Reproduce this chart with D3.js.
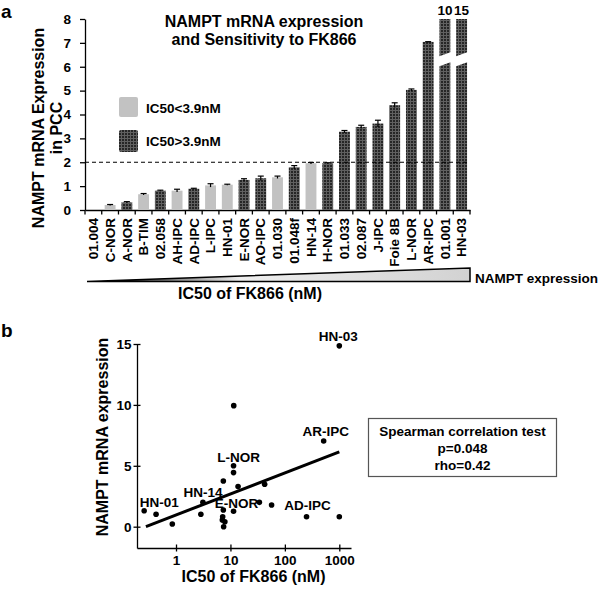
<!DOCTYPE html>
<meta charset="utf-8">
<head>
<style>

body {
  margin: 0;
  background: #fff;
}

svg {
  font-family: "Liberation Sans", Arial, sans-serif;
  font-weight: bold;
}

.axis text {
  font-size: 13.5px;
  font-weight: bold;
  fill: #000;
}

.axis path,
.axis line {
  stroke: #000;
  stroke-width: 1.3;
}

.lbl {
  font-size: 13.5px;
}

</style>
</head>
<body>
<svg width="600" height="590"></svg>
<script src="https://d3js.org/d3.v7.min.js"></script>
<script>

// panel a : cell lines ordered by NAMPT expression
var cells = ["01.004", "C-NOR", "A-NOR", "B-TIM", "02.058", "AH-IPC", "AD-IPC", "L-IPC", "HN-01", "E-NOR",
             "AO-IPC", "01.030", "01.048f", "HN-14", "H-NOR", "01.033", "02.087", "J-IPC", "Foie 8B", "L-NOR",
             "AR-IPC", "01.001", "HN-03"];
var expr = [0, 0.21, 0.32, 0.66, 0.81, 0.81, 0.89, 1.03, 1.06, 1.26,
            1.33, 1.37, 1.79, 1.96, 1.96, 3.28, 3.48, 3.62, 4.39, 5.03,
            7.04, 10, 15];
var exprErr = [0, 0.02, 0.03, 0.03, 0.02, 0.06, 0.02, 0.07, 0.02, 0.05,
               0.09, 0.05, 0.07, 0.03, 0.02, 0.05, 0.07, 0.14, 0.1, 0.04,
               0.01, 0, 0];
var sensitive = [false, true, false, true, false, true, false, true, true, false,
                 false, true, false, true, false, false, false, false, false, false,
                 false, false, false];
var legendLabels = ["IC50<3.9nM", "IC50>3.9nM"];
var yTicksA = [0, 1, 2, 3, 4, 5, 6, 7, 8];
var cutoff = 2;

// panel b : IC50 vs expression
var ic50 = [0.26, 0.43, 0.855, 2.86, 3.12, 7.4, 7.4, 7.2, 7.1, 7.9,
            7.5, 11.4, 11.4, 11.4, 11.5, 13.8, 34, 42.5, 57, 250,
            516, 1000, 1000];
var nampt = [1.31, 1.02, 0.22, 1.02, 2.0, 3.75, 1.37, 0.82, 0.55, 0.41,
             0.0, 5.0, 4.44, 1.27, 9.94, 3.29, 2.0, 3.48, 1.78, 0.82,
             7.04, 0.82, 14.85];
var pointNames = ["HN-03", "AR-IPC", "L-NOR", "HN-14", "E-NOR", "HN-01", "AD-IPC"];
var pointIndex = [22, 20, 11, 4, 13, 0, 19];
var fitLine = {intercept: 0.96, slope: 1.73, from: 0.28, to: 1000};
var xTicksB = [1, 10, 100, 1000];
var yTicksB = [0, 5, 10, 15];
var statLines = ["Spearman correlation test", "p=0.048", "rho=0.42"];

var svg = d3.select("svg");

// mesh fill for the dark bars
var defs = svg.append("defs");
var mesh = defs.append("pattern")
    .attr("id", "mesh")
    .attr("patternUnits", "userSpaceOnUse")
    .attr("width", 3)
    .attr("height", 3);
mesh.append("rect").attr("width", 3).attr("height", 3).attr("fill", "#262626");
mesh.append("rect").attr("x", 2).attr("width", 1).attr("height", 3).attr("fill", "#606060");
mesh.append("rect").attr("y", 2).attr("width", 3).attr("height", 1).attr("fill", "#606060");

var grad = defs.append("linearGradient").attr("id", "wedge");
grad.append("stop").attr("offset", "0%").attr("stop-color", "#000");
grad.append("stop").attr("offset", "40%").attr("stop-color", "#eeeeee");
grad.append("stop").attr("offset", "100%").attr("stop-color", "#d2d2d2");

/* ---------- panel a ---------- */

svg.append("text").attr("x", 1).attr("y", 18).style("font-size", "19px").text("a");

var xA = d3.scaleBand()
    .domain(cells)
    .range([85, 470])
    .paddingInner(0.35)
    .paddingOuter(0.175);

var yA = d3.scaleLinear().domain([0, 8]).range([210, 19]);

var gA = svg.append("g");

var yAxisA = gA.append("g")
    .attr("class", "axis")
    .attr("transform", "translate(85,0)")
    .call(d3.axisLeft(yA).tickValues(yTicksA).tickSize(5).tickSizeOuter(0).tickPadding(9));

var xAxisA = gA.append("g")
    .attr("class", "axis")
    .attr("transform", "translate(0,210)")
    .call(d3.axisBottom(xA).tickSize(0).tickSizeOuter(0));

xAxisA.selectAll("text")
    .attr("transform", "rotate(-90)")
    .attr("x", -8)
    .attr("y", 0)
    .attr("dy", "0.35em")
    .style("text-anchor", "end");

// ticks between categories
xAxisA.selectAll(".sep")
    .data(d3.range(cells.length + 1))
    .enter().append("line")
      .attr("class", "sep")
      .attr("x1", function(k) { return xA.range()[0] + k * xA.step(); })
      .attr("x2", function(k) { return xA.range()[0] + k * xA.step(); })
      .attr("y1", 0)
      .attr("y2", 4.5);

var bars = gA.selectAll(".bar")
    .data(cells.map(function(c, i) { return {name: c, v: expr[i], e: exprErr[i], low: sensitive[i]}; }))
    .enter().append("g")
      .attr("class", "bar");

bars.filter(function(d) { return d.v > 0; })
  .append("rect")
    .attr("x", function(d) { return xA(d.name); })
    .attr("width", xA.bandwidth())
    .attr("y", function(d) { return yA(Math.min(d.v, 8)); })
    .attr("height", function(d) { return yA(0) - yA(Math.min(d.v, 8)); })
    .attr("fill", function(d) { return d.low ? "#c2c2c2" : "url(#mesh)"; });

// error bars
var errs = bars.filter(function(d) { return d.e > 0; });
errs.append("line")
    .attr("x1", function(d) { return xA(d.name) + xA.bandwidth() / 2; })
    .attr("x2", function(d) { return xA(d.name) + xA.bandwidth() / 2; })
    .attr("y1", function(d) { return yA(d.v - d.e); })
    .attr("y2", function(d) { return yA(d.v + d.e); })
    .attr("stroke", "#000").attr("stroke-width", 1.2);
errs.append("line")
    .attr("x1", function(d) { return xA(d.name) + xA.bandwidth() / 2 - 3; })
    .attr("x2", function(d) { return xA(d.name) + xA.bandwidth() / 2 + 3; })
    .attr("y1", function(d) { return yA(d.v + d.e); })
    .attr("y2", function(d) { return yA(d.v + d.e); })
    .attr("stroke", "#000").attr("stroke-width", 1.2);

// broken bars above the axis top
var broken = bars.filter(function(d) { return d.v > 8; });
broken.append("polygon")
    .attr("fill", "#fff")
    .attr("points", function(d) {
      var x0 = xA(d.name) - 1.5, x1 = xA(d.name) + xA.bandwidth() + 1.5;
      var lo = yA(6.0), hi = yA(6.42);
      return [[x0, hi], [x1, hi - 5], [x1, lo - 5], [x0, lo]].join(" ");
    });
broken.append("text")
    .attr("class", "lbl")
    .attr("x", function(d) { return xA(d.name) + xA.bandwidth() / 2; })
    .attr("y", 15)
    .attr("text-anchor", "middle")
    .text(function(d) { return d.v; });

// 2-fold line
gA.append("line")
    .attr("x1", 85).attr("x2", 467)
    .attr("y1", yA(cutoff)).attr("y2", yA(cutoff))
    .attr("stroke", "#000")
    .attr("stroke-width", 1.2)
    .attr("stroke-dasharray", "4,3");

// title
gA.append("text")
    .attr("x", 264).attr("y", 27)
    .attr("text-anchor", "middle")
    .style("font-size", "16px")
    .text("NAMPT mRNA expression");
gA.append("text")
    .attr("x", 264).attr("y", 45)
    .attr("text-anchor", "middle")
    .style("font-size", "16px")
    .text("and Sensitivity to FK866");

// y title
var yTitle = gA.append("text")
    .attr("transform", "translate(44,128) rotate(-90)")
    .attr("text-anchor", "middle")
    .style("font-size", "16px");
yTitle.append("tspan").attr("x", 0).attr("y", 0).text("NAMPT mRNA Expression");
yTitle.append("tspan").attr("x", 0).attr("y", 18).text("in PCC");

// legend
var legend = gA.selectAll(".legend")
    .data(legendLabels)
    .enter().append("g")
      .attr("class", "legend")
      .attr("transform", function(d, i) { return "translate(119," + (97 + i * 33) + ")"; });
legend.append("rect")
    .attr("width", 19).attr("height", function(d, i) { return i ? 22 : 20; })
    .attr("rx", 2)
    .attr("fill", function(d, i) { return i ? "url(#mesh)" : "#c2c2c2"; });
legend.append("text")
    .attr("class", "lbl")
    .attr("x", 27)
    .attr("y", 16)
    .text(function(d) { return d; });

// wedge
gA.append("polygon")
    .attr("points", [[87, 281.5], [470, 268], [470, 281.5]].join(" "))
    .attr("fill", "url(#wedge)")
    .attr("stroke", "#000")
    .attr("stroke-width", 1.5);
gA.append("text").attr("class", "lbl").attr("x", 475).attr("y", 283).text("NAMPT expression");
gA.append("text")
    .attr("x", 250).attr("y", 299)
    .attr("text-anchor", "middle")
    .style("font-size", "16px")
    .text("IC50 of FK866 (nM)");

/* ---------- panel b ---------- */

svg.append("text").attr("x", 1).attr("y", 337).style("font-size", "19px").text("b");

var xB = d3.scaleLog().domain([0.192, 1640]).range([137, 351]);
var yB = d3.scaleLinear().domain([-1.75, 15]).range([548, 344]);

var gB = svg.append("g");

var yAxisB = gB.append("g")
    .attr("class", "axis")
    .attr("transform", "translate(137,0)")
    .call(d3.axisLeft(yB).tickValues(yTicksB).tickSize(3.5).tickSizeOuter(0).tickPadding(2));
yAxisB.selectAll(".tick line").attr("x1", 3.5);

var xAxisB = gB.append("g")
    .attr("class", "axis")
    .attr("transform", "translate(0,548)")
    .call(d3.axisBottom(xB).tickValues(xTicksB).tickFormat(d3.format("d")).tickSize(3.5).tickSizeOuter(0).tickPadding(3.5));
xAxisB.selectAll(".tick line").attr("y1", -3.5);

gB.append("line")
    .attr("x1", xB(fitLine.from))
    .attr("x2", xB(fitLine.to))
    .attr("y1", yB(fitLine.intercept + fitLine.slope * Math.log10(fitLine.from)))
    .attr("y2", yB(fitLine.intercept + fitLine.slope * Math.log10(fitLine.to)))
    .attr("stroke", "#000")
    .attr("stroke-width", 3);

gB.selectAll(".dot")
    .data(ic50)
    .enter().append("circle")
      .attr("class", "dot")
      .attr("cx", function(d) { return xB(d); })
      .attr("cy", function(d, i) { return yB(nampt[i]); })
      .attr("r", 2.8)
      .attr("fill", "#000");

var labelShift = {
  "HN-03": [-1, -5], "AR-IPC": [2, -4.5], "L-NOR": [5, -4], "HN-14": [0, -5.5],
  "E-NOR": [3, -3], "HN-01": [15, -4], "AD-IPC": [1, -6.5]
};

gB.selectAll(".plabel")
    .data(pointNames)
    .enter().append("text")
      .attr("class", "plabel lbl")
      .attr("text-anchor", "middle")
      .attr("x", function(d, i) { return xB(ic50[pointIndex[i]]) + labelShift[d][0]; })
      .attr("y", function(d, i) { return yB(nampt[pointIndex[i]]) + labelShift[d][1]; })
      .text(function(d) { return d; });

gB.append("text")
    .attr("transform", "translate(108,437) rotate(-90)")
    .attr("text-anchor", "middle")
    .style("font-size", "16px")
    .text("NAMPT mRNA expression");
gB.append("text")
    .attr("x", 253.5).attr("y", 582)
    .attr("text-anchor", "middle")
    .style("font-size", "16px")
    .text("IC50 of FK866 (nM)");

// statistics box
gB.append("rect")
    .attr("x", 368.5).attr("y", 418.5)
    .attr("width", 188).attr("height", 58)
    .attr("fill", "none")
    .attr("stroke", "#555")
    .attr("stroke-width", 1.2);
gB.selectAll(".stat")
    .data(statLines)
    .enter().append("text")
      .attr("class", "stat lbl")
      .attr("x", 462.5)
      .attr("y", function(d, i) { return 436 + i * 17; })
      .attr("text-anchor", "middle")
      .text(function(d) { return d; });

</script>
</body>
</html>
